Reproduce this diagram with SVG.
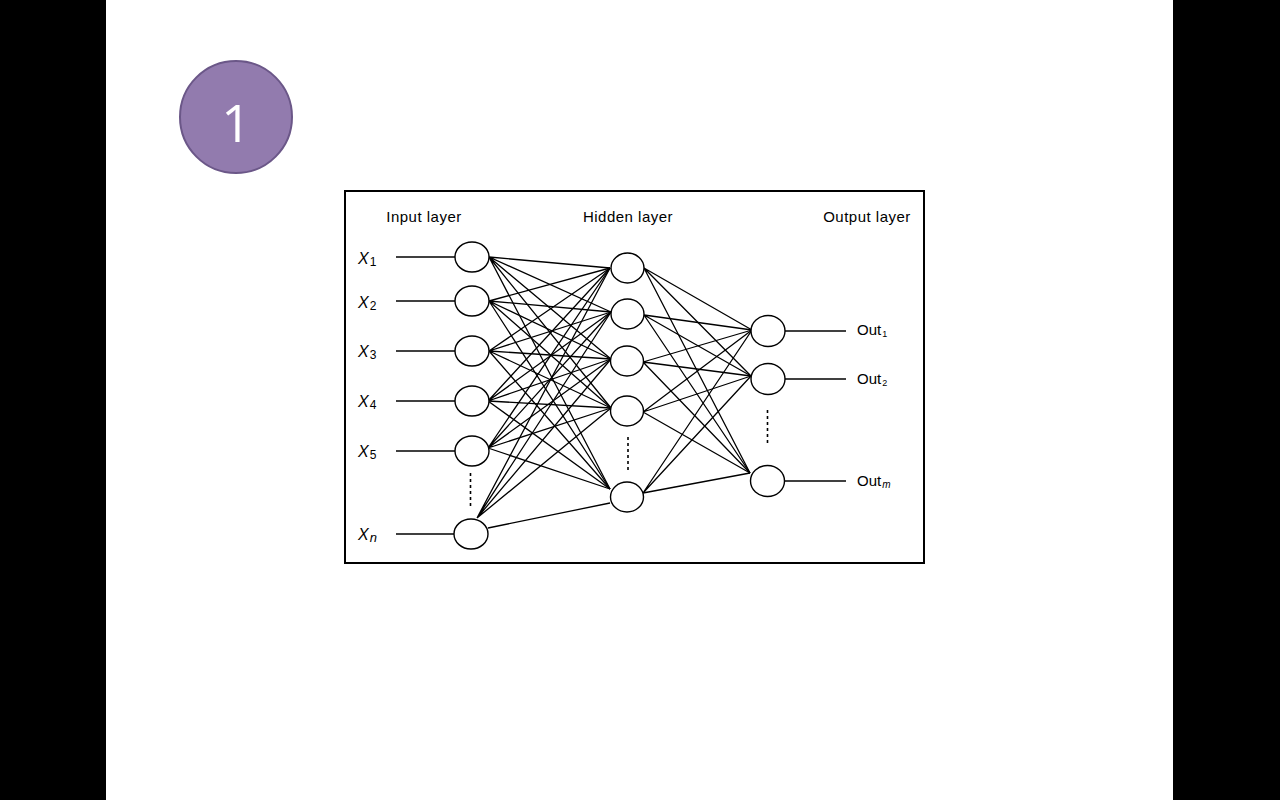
<svg xmlns="http://www.w3.org/2000/svg" width="1280" height="800" viewBox="0 0 1280 800">
<style>
.bar{fill:#000}
.node{fill:#fff;stroke:#000;stroke-width:1.4}
.edge{stroke:#000;stroke-width:1.3;fill:none}
.io{stroke:#000;stroke-width:1.3}
.dots{stroke:#000;stroke-width:1.6;stroke-dasharray:3 3}
.hdr{font-family:"Liberation Sans",Arial,sans-serif;font-size:15px;letter-spacing:0.5px;fill:#000}
.var{font-family:"Liberation Sans",Arial,sans-serif;font-size:16px;font-style:italic;fill:#000}
.sub{font-family:"Liberation Sans",Arial,sans-serif;font-size:12px;font-style:normal;fill:#000}
.subi{font-family:"Liberation Sans",Arial,sans-serif;font-size:13px;font-style:italic;fill:#000}
.osub{font-family:"Liberation Sans",Arial,sans-serif;font-size:9px;font-style:normal;fill:#000}
.osubi{font-family:"Liberation Sans",Arial,sans-serif;font-size:10px;font-style:italic;fill:#000}
.out{font-family:"Liberation Sans",Arial,sans-serif;font-size:15px;fill:#000}
</style>
<rect x="0" y="0" width="1280" height="800" fill="#fff"/>
<rect class="bar" x="0" y="0" width="106" height="800"/>
<rect class="bar" x="1173" y="0" width="107" height="800"/>

<g id="badge">
<circle cx="236" cy="117" r="56" fill="#927BAE" stroke="#6B5788" stroke-width="2"/>
<text x="236" y="142" text-anchor="middle" font-family="'Open Sans','Liberation Sans',sans-serif" font-size="52" fill="#fff">1</text>
</g>

<g id="frame">
<rect x="345" y="191" width="579" height="372" fill="none" stroke="#000" stroke-width="2"/>
<text class="hdr" x="424" y="222" text-anchor="middle">Input layer</text>
<text class="hdr" x="628" y="222" text-anchor="middle">Hidden layer</text>
<text class="hdr" x="867" y="222" text-anchor="middle">Output layer</text>
</g>

<g id="connectors">
<line class="io" x1="396" y1="257" x2="455" y2="257"/>
<line class="io" x1="396" y1="301" x2="455" y2="301"/>
<line class="io" x1="396" y1="351" x2="455" y2="351"/>
<line class="io" x1="396" y1="401" x2="455" y2="401"/>
<line class="io" x1="396" y1="451" x2="455" y2="451"/>
<line class="io" x1="396" y1="534" x2="454" y2="534"/>
<line class="io" x1="785" y1="331" x2="846" y2="331"/>
<line class="io" x1="785" y1="379" x2="846" y2="379"/>
<line class="io" x1="785" y1="481" x2="846" y2="481"/>
<path class="edge" d="M489 257L610 268M489 257L611 312M489 257L611 359M489 257L611 408M489 257L610 489"/>
<path class="edge" d="M489 301L610 268M489 301L611 312M489 301L611 359M489 301L611 408M489 301L610 489"/>
<path class="edge" d="M489 351L610 268M489 351L611 312M489 351L611 359M489 351L611 408M489 351L610 489"/>
<path class="edge" d="M488 401L610 268M488 401L611 312M488 401L611 359M488 401L611 408M488 401L610 489"/>
<path class="edge" d="M488 448L610 268M488 448L611 312M488 448L611 359M488 448L611 408M488 448L610 489"/>
<path class="edge" d="M477 518L610 268M477 518L611 312M477 518L611 359M477 518L611 408M488 528L610 503"/>
<path class="edge" d="M644 268L752 330M644 268L751 376M644 268L750 473"/>
<path class="edge" d="M644 315L752 330M644 315L751 376M644 315L750 473"/>
<path class="edge" d="M643 362L752 330M643 362L751 376M643 362L750 473"/>
<path class="edge" d="M643 412L752 330M643 412L751 376M643 412L750 473"/>
<path class="edge" d="M643 493L752 330M643 493L751 376M643 493L750 473"/>
<line class="dots" x1="470.5" y1="473" x2="470.5" y2="506"/>
<line class="dots" x1="628" y1="437" x2="628" y2="470"/>
<line class="dots" x1="767.5" y1="410" x2="767.5" y2="443"/>
</g>

<g id="input-nodes">
<g id="in1"><ellipse class="node" cx="472" cy="257" rx="17" ry="15"/><text class="var" x="358" y="264">X<tspan class="sub" dx="1" dy="2">1</tspan></text></g>
<g id="in2"><ellipse class="node" cx="472" cy="301" rx="17" ry="15"/><text class="var" x="358" y="308">X<tspan class="sub" dx="1" dy="2">2</tspan></text></g>
<g id="in3"><ellipse class="node" cx="472" cy="351" rx="17" ry="15"/><text class="var" x="358" y="357">X<tspan class="sub" dx="1" dy="2">3</tspan></text></g>
<g id="in4"><ellipse class="node" cx="472" cy="401" rx="17" ry="15"/><text class="var" x="358" y="407">X<tspan class="sub" dx="1" dy="2">4</tspan></text></g>
<g id="in5"><ellipse class="node" cx="472" cy="451" rx="17" ry="15"/><text class="var" x="358" y="457">X<tspan class="sub" dx="1" dy="2">5</tspan></text></g>
<g id="inn"><ellipse class="node" cx="471" cy="534" rx="17" ry="15"/><text class="var" x="358" y="540">X<tspan class="subi" dx="1" dy="2">n</tspan></text></g>
</g>

<g id="hidden-nodes">
<g id="h1"><ellipse class="node" cx="627.5" cy="268" rx="16.5" ry="15"/></g>
<g id="h2"><ellipse class="node" cx="627.5" cy="314" rx="16.5" ry="15"/></g>
<g id="h3"><ellipse class="node" cx="627" cy="361" rx="16.5" ry="15"/></g>
<g id="h4"><ellipse class="node" cx="627" cy="411" rx="16.5" ry="15"/></g>
<g id="h5"><ellipse class="node" cx="627" cy="497" rx="16.5" ry="15"/></g>
</g>

<g id="output-nodes">
<g id="o1"><ellipse class="node" cx="768" cy="331" rx="17" ry="15.5"/><text class="out" x="857" y="335">Out<tspan class="osub" dx="1" dy="2">1</tspan></text></g>
<g id="o2"><ellipse class="node" cx="768" cy="379" rx="17" ry="15.5"/><text class="out" x="857" y="384">Out<tspan class="osub" dx="1" dy="2">2</tspan></text></g>
<g id="om"><ellipse class="node" cx="767.5" cy="481" rx="17" ry="15.5"/><text class="out" x="857" y="486">Out<tspan class="osubi" dx="1" dy="2">m</tspan></text></g>
</g>
</svg>
